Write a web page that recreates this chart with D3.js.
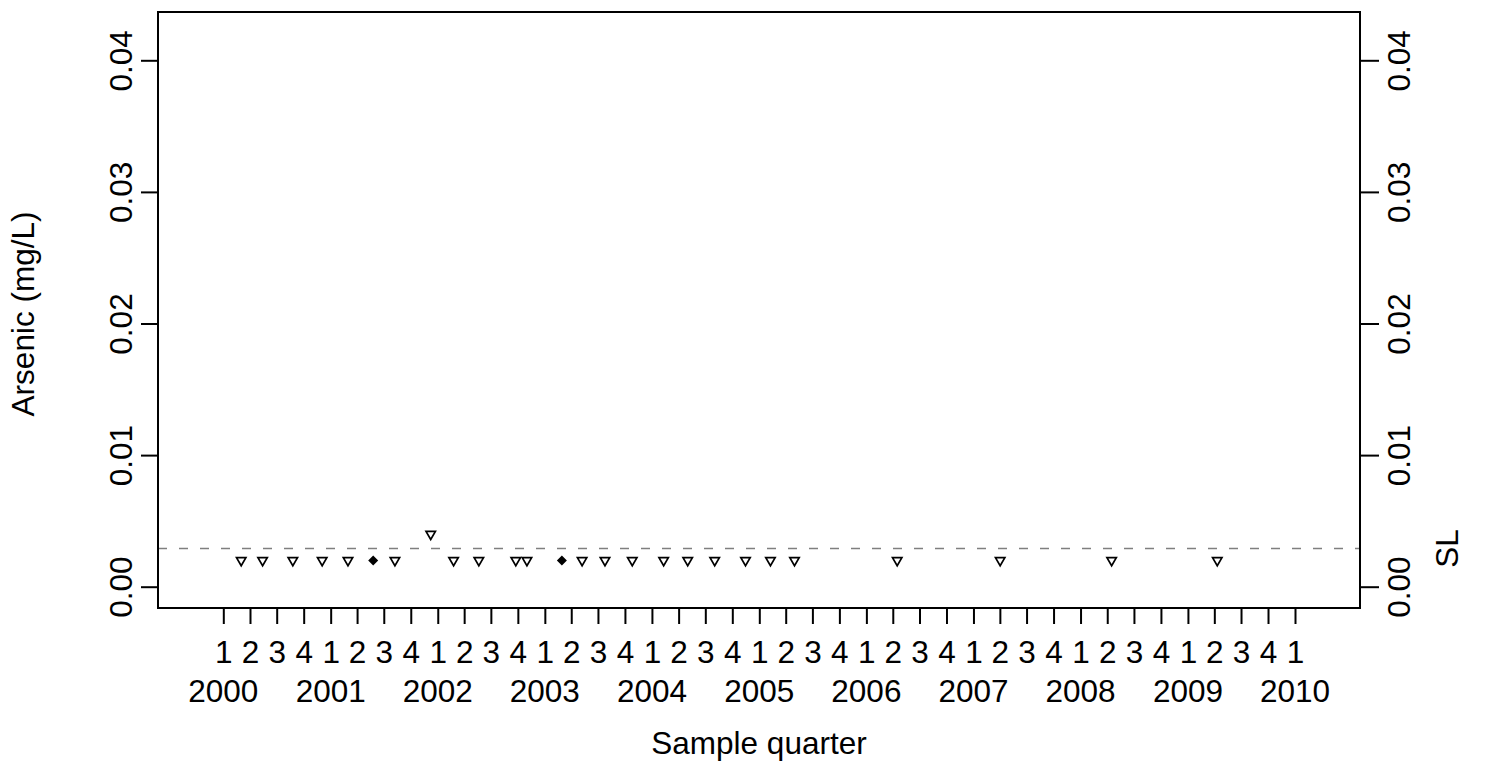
<!DOCTYPE html>
<html>
<head>
<meta charset="utf-8">
<script src="https://cdn.jsdelivr.net/npm/d3@7"></script>
<style>
  html, body { margin: 0; padding: 0; background: #fff; }
  svg { display: block; }
  text { font-family: "Liberation Sans", Arial, Helvetica, sans-serif; fill: #000; }
</style>
</head>
<body>
<svg id="chart" width="1486" height="764"></svg>
<script>
// Arsenic results by sample date; non-detects are plotted at the reporting limit
const nondetectDates = [
  "2000-03-02", "2000-05-14", "2000-08-25", "2000-12-03", "2001-03-01",
  "2001-08-08", "2001-12-08", "2002-02-24", "2002-05-21", "2002-09-24",
  "2002-11-01", "2003-05-08", "2003-07-25", "2003-10-26", "2004-02-10",
  "2004-05-02", "2004-08-02", "2004-11-15", "2005-02-08", "2005-05-01",
  "2006-04-16", "2007-04-02", "2008-04-16", "2009-04-11"
];
const nondetectValues = [
  0.002, 0.002, 0.002, 0.002, 0.002,
  0.002, 0.004, 0.002, 0.002, 0.002,
  0.002, 0.002, 0.002, 0.002, 0.002,
  0.002, 0.002, 0.002, 0.002, 0.002,
  0.002, 0.002, 0.002, 0.002
];
const detectDates = ["2001-05-26", "2003-02-28"];
const detectValues = [0.002, 0.002];

const standardLevel = 0.0029;   // SL reference line
const yTicks = [0, 0.01, 0.02, 0.03, 0.04];
const quarterLabels = ["1", "2", "3", "4"];
const yearLabels = ["2000", "2001", "2002", "2003", "2004", "2005",
                    "2006", "2007", "2008", "2009", "2010"];

const parse = d3.timeParse("%Y-%m-%d");
const svg = d3.select("#chart");

// plot frame
const box = { left: 158, right: 1360, top: 12, bottom: 608 };
const fontSize = 31.5;

const x = d3.scaleTime()
  .domain([new Date(2000, 0, 1), new Date(2010, 0, 1)])
  .range([223.3, 1295]);
const y = d3.scaleLinear()
  .domain([0, 0.04])
  .range([586.7, 60.3]);

// quarter ticks along the bottom
const quarterTicks = d3.timeMonth.every(3).range(new Date(2000, 0, 1), new Date(2010, 0, 2));
const xAxis = d3.axisBottom(x)
  .tickValues(quarterTicks)
  .tickSize(16)
  .tickPadding(0)
  .tickFormat(d => quarterLabels[Math.floor(d.getMonth() / 3)]);

const gx = svg.append("g")
  .attr("transform", `translate(0,${box.bottom})`)
  .call(xAxis);
gx.select(".domain").remove();
gx.selectAll(".tick line").attr("stroke", "#000").attr("stroke-width", 2);
gx.selectAll(".tick text")
  .attr("y", 663 - box.bottom).attr("dy", 0)
  .attr("font-size", fontSize);

// year labels under each first quarter
const yearTicks = quarterTicks.filter(d => d.getMonth() === 0);
svg.append("g").selectAll("text")
  .data(yearTicks)
  .join("text")
  .attr("x", d => x(d))
  .attr("y", 701.7)
  .attr("text-anchor", "middle")
  .attr("font-size", fontSize)
  .text((d, i) => yearLabels[i]);

// left and right value axes with rotated labels
function styleYAxis(g, baselineOffset) {
  g.select(".domain").remove();
  g.selectAll(".tick line").attr("stroke", "#000").attr("stroke-width", 2);
  g.selectAll(".tick text")
    .attr("transform", "rotate(-90)")
    .attr("x", 0)
    .attr("y", baselineOffset)
    .attr("dy", 0)
    .attr("text-anchor", "middle")
    .attr("font-size", fontSize);
}

const gyl = svg.append("g")
  .attr("transform", `translate(${box.left},0)`)
  .call(d3.axisLeft(y).tickValues(yTicks).tickSize(17).tickFormat(d3.format(".2f")));
styleYAxis(gyl, 131.7 - box.left);

const gyr = svg.append("g")
  .attr("transform", `translate(${box.right},0)`)
  .call(d3.axisRight(y).tickValues(yTicks).tickSize(19).tickFormat(d3.format(".2f")));
styleYAxis(gyr, 1410 - box.right);

// SL reference line
svg.append("line")
  .attr("x1", box.left).attr("x2", box.right)
  .attr("y1", y(standardLevel)).attr("y2", y(standardLevel))
  .attr("stroke", "#7f7f7f")
  .attr("stroke-width", 1.5)
  .attr("stroke-dasharray", "9,12");

svg.append("text")
  .attr("transform", `translate(1458,${y(standardLevel)}) rotate(-90)`)
  .attr("text-anchor", "middle")
  .attr("font-size", fontSize)
  .text("SL");

// plot frame
svg.append("rect")
  .attr("x", box.left).attr("y", box.top)
  .attr("width", box.right - box.left)
  .attr("height", box.bottom - box.top)
  .attr("fill", "none")
  .attr("stroke", "#000")
  .attr("stroke-width", 2);

// non-detects: open downward triangles
const yc = 2.7, h = 4.7;
svg.append("g").selectAll("path")
  .data(nondetectDates.map((d, i) => ({ date: parse(d), value: nondetectValues[i] })))
  .join("path")
  .attr("d", d => {
    const cx = x(d.date), cy = y(d.value);
    return `M${cx - h},${cy - yc}L${cx + h},${cy - yc}L${cx},${cy + 2 * yc}Z`;
  })
  .attr("fill", "none")
  .attr("stroke", "#000")
  .attr("stroke-width", 1.7);

// detections: filled diamonds
const dh = 5;
svg.append("g").selectAll("path")
  .data(detectDates.map((d, i) => ({ date: parse(d), value: detectValues[i] })))
  .join("path")
  .attr("d", d => {
    const cx = x(d.date), cy = y(d.value);
    return `M${cx},${cy - dh}L${cx + dh},${cy}L${cx},${cy + dh}L${cx - dh},${cy}Z`;
  })
  .attr("fill", "#000");

// axis titles
svg.append("text")
  .attr("x", (box.left + box.right) / 2)
  .attr("y", 754.3)
  .attr("text-anchor", "middle")
  .attr("font-size", fontSize)
  .text("Sample quarter");

svg.append("text")
  .attr("transform", `translate(34,314) rotate(-90)`)
  .attr("text-anchor", "middle")
  .attr("font-size", fontSize)
  .text("Arsenic (mg/L)");
</script>
</body>
</html>
